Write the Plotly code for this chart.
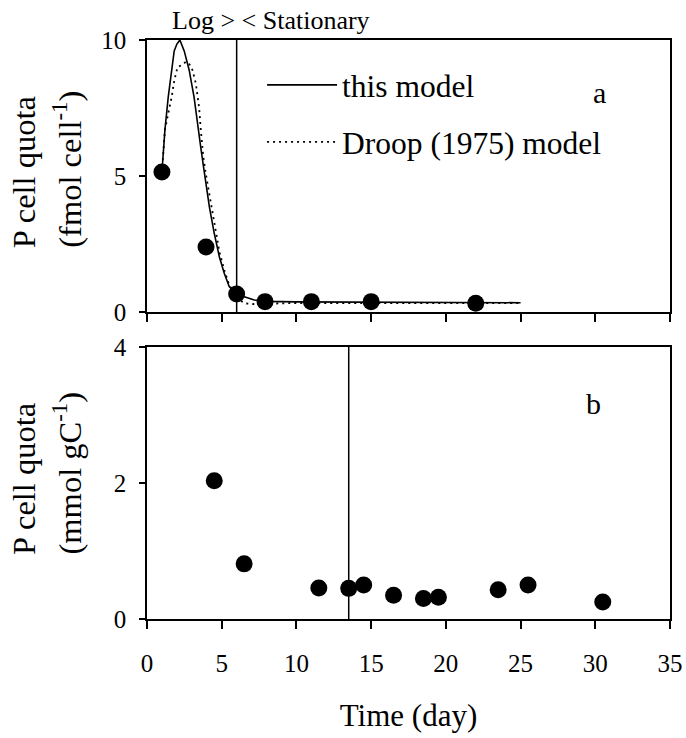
import plotly.graph_objects as go
from plotly.subplots import make_subplots

# ---- data ----
# panel a: observed P cell quota (fmol cell-1)
obs_a_day = [1.0, 3.95, 6.0, 7.9, 11.0, 15.0, 22.0]
obs_a_q = [5.15, 2.4, 0.67, 0.39, 0.39, 0.39, 0.33]

# panel a: model curves
model_day = [1.0, 1.2, 1.42, 1.65, 1.82, 2.0, 2.2, 2.49, 2.82, 3.15, 3.37, 3.6, 3.82,
             3.96, 4.18, 4.5, 4.84, 5.17, 5.5, 5.96, 6.51, 7.18, 8.0, 10.0, 15.0, 20.0, 25.0]
model_q = [5.15, 6.7, 7.9, 8.9, 9.6, 9.85, 10.0, 9.6, 8.9, 7.9, 6.9, 6.05, 5.2,
           4.6, 3.85, 2.9, 2.04, 1.43, 0.94, 0.7, 0.57, 0.45, 0.4, 0.38, 0.37, 0.36, 0.35]

droop_day = [1.0, 1.2, 1.42, 1.65, 1.82, 2.04, 2.38, 2.6, 2.8, 3.04, 3.27, 3.49, 3.6,
             3.77, 3.93, 4.2, 4.5, 4.85, 5.2, 5.5, 6.0, 6.5, 7.0, 8.0, 10.0, 15.0, 20.0, 25.0]
droop_q = [5.15, 6.7, 7.3, 7.9, 8.5, 9.0, 9.1, 9.2, 9.15, 8.9, 8.4, 7.5, 6.7,
           5.7, 5.1, 4.2, 3.2, 2.2, 1.5, 1.0, 0.55, 0.33, 0.3, 0.32, 0.34, 0.34, 0.34, 0.34]

# panel b: observed P cell quota (mmol gC-1)
obs_b_day = [4.5, 6.5, 11.5, 13.5, 14.5, 16.5, 18.5, 19.5, 23.5, 25.5, 30.5]
obs_b_q = [2.03, 0.81, 0.455, 0.45, 0.5, 0.35, 0.3, 0.32, 0.43, 0.5, 0.25]

# log/stationary boundary
boundary_a = 6.0
boundary_b = 13.5

x_ticks = [0, 5, 10, 15, 20, 25, 30, 35]
ya_ticks = [0, 5, 10]
yb_ticks = [0, 2, 4]

FONT = "Liberation Serif, Times New Roman, Times, DejaVu Serif, serif"

fig = make_subplots(rows=2, cols=1, shared_xaxes=False, vertical_spacing=0.06)

fig.add_trace(go.Scatter(x=model_day, y=model_q, mode="lines", name="this model",
                         line=dict(color="black", width=1.6), legendgroup="a"), row=1, col=1)
fig.add_trace(go.Scatter(x=droop_day, y=droop_q, mode="lines", name="Droop (1975) model",
                         line=dict(color="black", width=1.8, dash="2px,4px"), legendgroup="b"), row=1, col=1)
fig.add_trace(go.Scatter(x=[boundary_a, boundary_a], y=[ya_ticks[0], ya_ticks[-1]], mode="lines",
                         line=dict(color="black", width=1.5), showlegend=False), row=1, col=1)
fig.add_trace(go.Scatter(x=obs_a_day, y=obs_a_q, mode="markers",
                         marker=dict(color="black", size=17), showlegend=False), row=1, col=1)

fig.add_trace(go.Scatter(x=[boundary_b, boundary_b], y=[yb_ticks[0], yb_ticks[-1]], mode="lines",
                         line=dict(color="black", width=1.5), showlegend=False), row=2, col=1)
fig.add_trace(go.Scatter(x=obs_b_day, y=obs_b_q, mode="markers",
                         marker=dict(color="black", size=17), showlegend=False), row=2, col=1)

axis_common = dict(showline=True, linecolor="black", linewidth=1.5, mirror=True,
                   showgrid=False, zeroline=False, ticks="outside", tickcolor="black",
                   tickwidth=1.5, automargin=False,
                   tickfont=dict(family=FONT, size=25, color="black"))

fig.update_xaxes(range=[0, 35], tickvals=x_ticks, ticklen=8, ticklabelstandoff=13, **axis_common)
fig.update_xaxes(showticklabels=False, row=1, col=1)
fig.update_xaxes(title=dict(text="Time (day)", font=dict(family=FONT, size=31, color="black"),
                            standoff=29), row=2, col=1)
fig.update_yaxes(ticklen=6, ticklabelstandoff=8, **axis_common)
fig.update_yaxes(range=[0, 10], tickvals=ya_ticks, row=1, col=1)
fig.update_yaxes(range=[0, 4], tickvals=yb_ticks, row=2, col=1)

fig.update_layout(
    width=686, height=738, autosize=False,
    margin=dict(l=147, r=16, t=40, b=118.5, autoexpand=False),
    paper_bgcolor="white", plot_bgcolor="white",
    font=dict(family=FONT, color="black"),
    showlegend=True,
    legend=dict(x=0.22, y=0.969, xanchor="left", yanchor="top", bgcolor="rgba(0,0,0,0)",
                font=dict(family=FONT, size=31.5, color="black"), traceorder="grouped",
                tracegroupgap=13, itemwidth=70),
)
fig.update_layout(xaxis=dict(domain=[0, 1]), yaxis=dict(domain=[0.5298, 1.0]),
                  xaxis2=dict(domain=[0, 1]), yaxis2=dict(domain=[0.0, 0.4702]))

ann_font = dict(family=FONT, size=30, color="black")
title_font = dict(family=FONT, size=32.5, color="black")
fig.add_annotation(text="Log &gt; &lt; Stationary", xref="x", yref="paper", x=8.3, y=1.0,
                   yanchor="middle", yshift=20, showarrow=False,
                   font=dict(family=FONT, size=26, color="black"))
fig.add_annotation(text="a", xref="x", yref="y", x=30.3, y=8.08, showarrow=False, font=ann_font)
fig.add_annotation(text="b", xref="x2", yref="y2", x=29.9, y=3.17, showarrow=False, font=ann_font)

for yref, unit in [("y", "(fmol cell<sup>-1</sup>)"), ("y2", "(mmol gC<sup>-1</sup>)")]:
    fig.add_annotation(text="P cell quota", xref="paper", yref=yref, x=0, y=0,
                       xanchor="center", yanchor="bottom", yshift=62,
                       xshift=-123, textangle=-90, showarrow=False, font=title_font)
    fig.add_annotation(text=unit, xref="paper", yref=yref, x=0, y=0,
                       xanchor="center", yanchor="bottom", yshift=62,
                       xshift=-79, textangle=-90, showarrow=False, font=title_font)

fig.write_html("out.html", config={"responsive": False, "displayModeBar": False},
               post_script="document.body.style.margin='0';document.body.style.overflow='hidden';")
